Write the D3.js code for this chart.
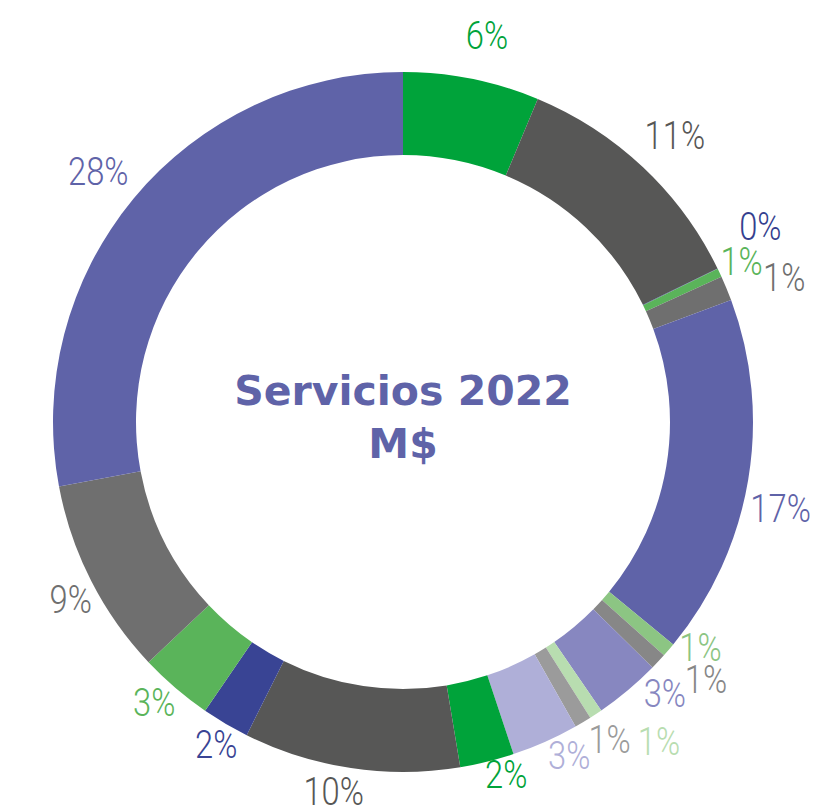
<!DOCTYPE html>
<html>
<head>
<meta charset="utf-8">
<script src="https://cdn.jsdelivr.net/npm/d3@7"></script>
<style>
  html, body { margin: 0; padding: 0; background: #ffffff; }
  svg { display: block; }
</style>
</head>
<body>
<svg id="chart" width="826" height="812"></svg>
<script>
// ---- data ----
const categories = ["A","B","C","D","E","F","G","H","I","J","K","L","M","N","O","P","Q","R"];
const values = [6.3, 11.5, 0.02, 0.4, 1.15, 16.65, 0.65, 0.76, 3.05, 0.6, 0.78, 3.1, 2.5, 10.0, 2.2, 3.4, 9.1, 28.0];
const labels = ["6%","11%","0%","1%","1%","17%","1%","1%","3%","1%","1%","3%","2%","10%","2%","3%","9%","28%"];
const colors = ["#00a33a","#575756","#353f8f","#5ab45a","#6f6f6f","#5f63a8","#8cc583","#878787","#8787c0","#b8ddb0","#9b9b9b","#afafd8","#00a33a","#575756","#394494","#5ab45a","#6f6f6f","#5f63a8"];
const labelColors = ["#00a33a","#575756","#353f8f","#5ab45a","#6f6f6f","#5f63a8","#8cc583","#878787","#8787c0","#b8ddb0","#9b9b9b","#afafd8","#00a33a","#575756","#394494","#5ab45a","#6f6f6f","#5f63a8"];
const titleLines = ["Servicios 2022", "M$"];

// ---- layout (label nudges to avoid overlap) ----
const labelNudge = [[7,-2],[3,-2],[5,-24],[-16,6],[19,5],[-9,21],[0,-30],[17,-11],[10,-29],[40,-8],[5,-19],[7,-25],[9,-28],[-11,-18],[12,-16],[6,-18],[17,-1],[-3,-1]];

const cx = 403, cy = 422, rOuter = 350, rInner = 267, rLabel = 392;
const svg = d3.select("#chart");
const g = svg.append("g").attr("transform", `translate(${cx},${cy})`);

const pie = d3.pie().sort(null).value(d => d.v);
const data = categories.map((c, i) => ({c, v: values[i], i}));
const arcs = pie(data);
const arc = d3.arc().innerRadius(rInner).outerRadius(rOuter);
const labelArc = d3.arc().innerRadius(rLabel).outerRadius(rLabel);

g.selectAll("path.slice").data(arcs).enter().append("path")
  .attr("class", "slice")
  .attr("d", arc)
  .attr("fill", d => colors[d.data.i]);

g.selectAll("text.lbl").data(arcs).enter().append("text")
  .attr("class", "lbl")
  .attr("transform", d => {
    const [x, y] = labelArc.centroid(d);
    const n = labelNudge[d.data.i];
    return `translate(${x + n[0]},${y + n[1]}) scale(0.84,1)`;
  })
  .attr("text-anchor", "middle")
  .attr("dy", "0.355em")
  .attr("font-family", "Roboto, 'Liberation Sans', sans-serif")
  .attr("font-weight", 300)
  .attr("font-size", 39)
  .attr("fill", d => labelColors[d.data.i])
  .text(d => labels[d.data.i]);

const title = g.append("text")
  .attr("text-anchor", "middle")
  .attr("font-family", "'DejaVu Sans', sans-serif")
  .attr("font-weight", "bold")
  .attr("font-size", 41)
  .attr("fill", "#5f63a8");
title.selectAll("tspan").data(titleLines).enter().append("tspan")
  .attr("x", 0)
  .attr("y", (d, i) => -17 + i * 53)
  .text(d => d);
</script>
</body>
</html>
